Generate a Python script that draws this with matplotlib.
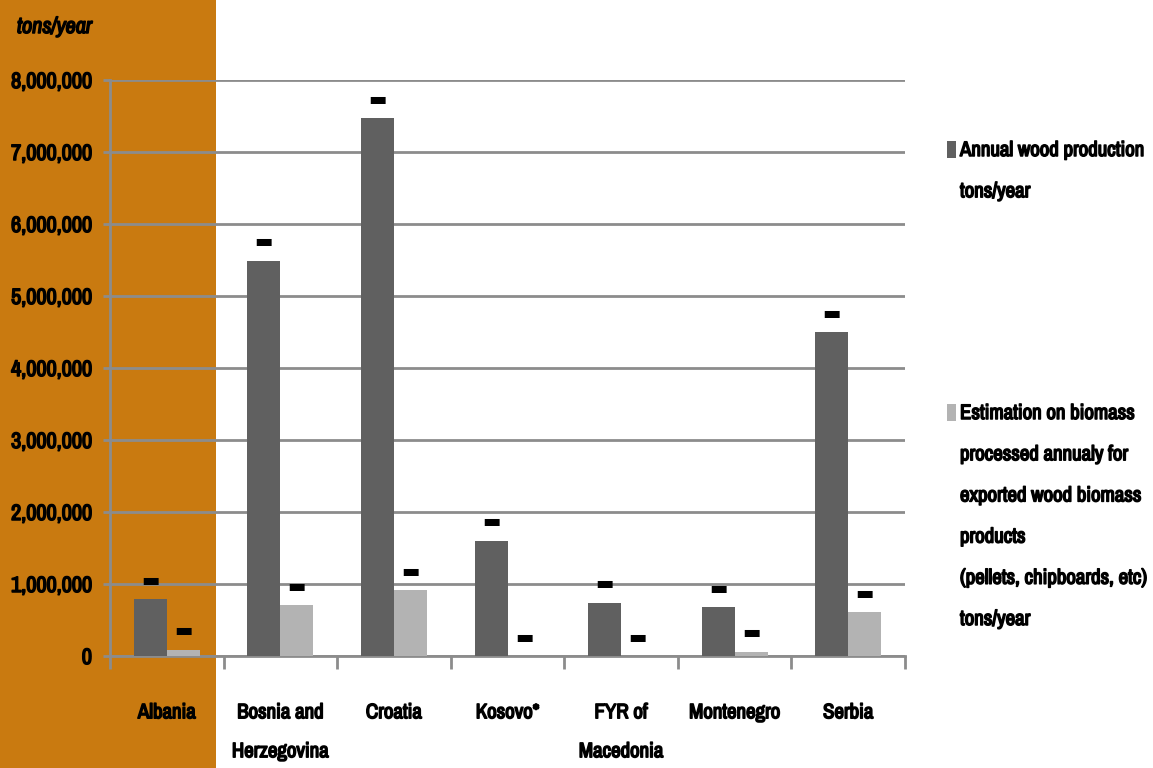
import numpy as np
import matplotlib
matplotlib.use("Agg")
import matplotlib.pyplot as plt
import matplotlib.patheffects as pe
from matplotlib.patches import Rectangle
from matplotlib import font_manager

# Wood production vs. biomass processed for export, Western Balkans
countries = ["Albania", "Bosnia and\nHerzegovina", "Croatia", "Kosovo*",
             "FYR of\nMacedonia", "Montenegro", "Serbia"]
wood_production = [790000, 5490000, 7470000, 1600000, 740000, 680000, 4500000]
biomass_export = [90000, 710000, 910000, 0, 0, 60000, 610000]
series_names = ["Annual wood production\ntons/year",
                "Estimation on biomass\nprocessed annualy for\nexported wood biomass\nproducts\n(pellets, chipboards, etc)\ntons/year"]

dark = "#606060"
light = "#b3b3b3"
orange = "#c97a10"
grid = "#8c8c8c"

# prefer a narrow face if one is around
names = sorted({f.name for f in font_manager.fontManager.ttflist})
if "Liberation Sans Narrow" in names:
    face = "Liberation Sans Narrow"
else:
    narrow = [n for n in names if "Narrow" in n or "Condensed" in n]
    face = narrow[0] if narrow else "Lato"
fs = 15

plt.rcParams['font.family'] = [face, 'DejaVu Sans']
plt.rcParams['font.weight'] = 'bold'
# thicken strokes since the narrow face has no bold cut
heavy = [pe.withStroke(linewidth=1.1, foreground="black")]

fig = plt.figure(figsize=(11.53, 7.68), dpi=100)
fig.patches.append(Rectangle((0, 0), 216 / 1153, 1, transform=fig.transFigure,
                             facecolor=orange, edgecolor="none", zorder=-5))

ax = fig.add_axes([110 / 1153, 112 / 768, 795 / 1153, 576 / 768])
ax.patch.set_alpha(0)

x = np.arange(len(countries))
w = 0.29
b1 = ax.bar(x - w / 2, wood_production, w, color=dark, zorder=3)
b2 = ax.bar(x + w / 2, biomass_export, w, color=light, zorder=3)

# garbled value labels sit just above each bar
for bars in (b1, b2):
    for r in bars:
        ax.text(r.get_x() + r.get_width() / 2, r.get_height() + 130000, "▬",
                ha="center", va="bottom", fontsize=14, color="black",
                family="DejaVu Sans", zorder=4)

ax.set_xlim(-0.5, len(countries) - 0.5)
ax.set_ylim(0, 8000000)
ax.set_yticks(np.arange(0, 8000001, 1000000))
ylabels = ax.set_yticklabels([f"{v:,}" for v in range(0, 8000001, 1000000)], fontsize=fs + 1)
ax.yaxis.grid(True, color=grid, linewidth=2, zorder=1)

ax.set_xticks(np.arange(-0.5, len(countries), 1))
ax.set_xticklabels([])
ax.set_xticks(x, minor=True)
xlabels = ax.set_xticklabels(countries, minor=True, fontsize=fs, linespacing=2.33, va="top")
ax.tick_params(axis="x", which="minor", length=0, pad=34)
ax.tick_params(axis="x", which="major", length=9, width=2, color=grid)
ax.tick_params(axis="y", length=5, width=2, color=grid, pad=8)

for s in ("top", "right"):
    ax.spines[s].set_visible(False)
for s in ("left", "bottom"):
    ax.spines[s].set_color(grid)
    ax.spines[s].set_linewidth(2)

unit = fig.text(17 / 1153, 1 - 27 / 768, "tons/year", style="italic", fontsize=fs + 1,
                va="center", ha="left")

# legend drawn by hand
legend_top = [150, 413]
legend_texts = []
for name, col, top in zip(series_names, [dark, light], legend_top):
    fig.patches.append(Rectangle((947 / 1153, 1 - (top + 8) / 768), 9 / 1153, 17 / 768,
                                 transform=fig.transFigure, facecolor=col,
                                 edgecolor="none"))
    legend_texts.append(fig.text(960 / 1153, 1 - (top - 9) / 768, name, fontsize=fs,
                                 va="top", ha="left", linespacing=2.48))

for t in list(ylabels) + list(xlabels) + legend_texts + [unit]:
    t.set_path_effects(heavy)

fig.savefig("out.png", dpi=100)
